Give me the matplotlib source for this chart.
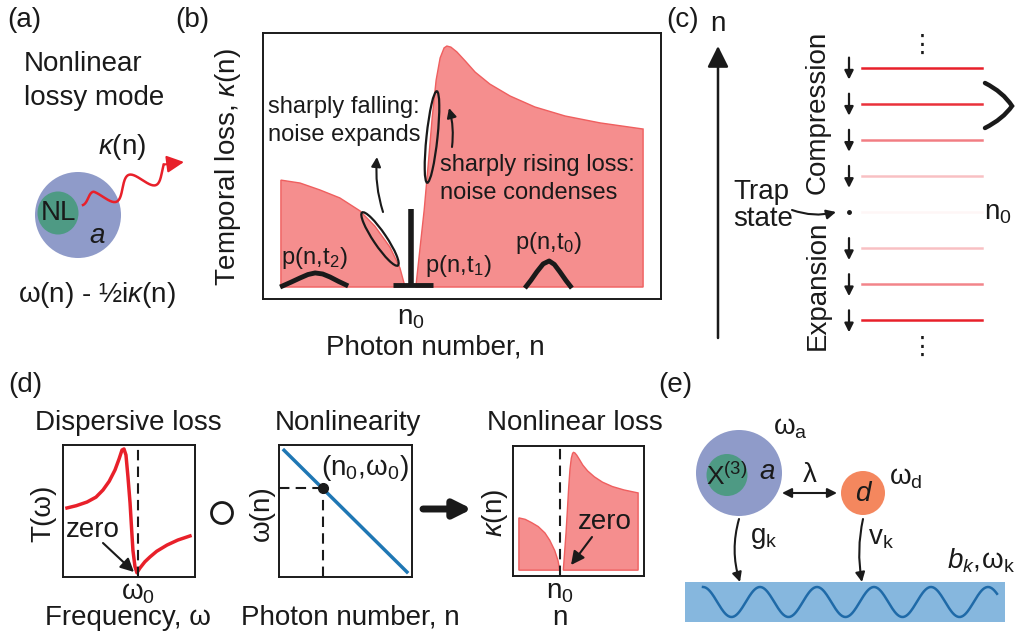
import numpy as np
import matplotlib
matplotlib.use('Agg')
import matplotlib.pyplot as plt
from matplotlib.patches import Ellipse, Circle, Rectangle, FancyArrowPatch
from matplotlib.path import Path
from matplotlib.patches import PathPatch

plt.rcParams['font.family'] = ['Liberation Sans', 'DejaVu Sans']
plt.rcParams['mathtext.fontset'] = 'custom'
plt.rcParams['mathtext.rm'] = 'Liberation Sans'
plt.rcParams['mathtext.it'] = 'Liberation Sans:italic'
plt.rcParams['mathtext.bf'] = 'Liberation Sans:bold'

W, H = 1016, 636
FS = 20

# nonlinear loss kappa(n), box units 0-100 (used in (b) and (d))
kappa_low_n = [4.5, 9.3, 14.3, 19.3, 24.4, 28.1, 31.9, 34.4, 35.7]
kappa_low = [44.7, 43.6, 41.0, 38.0, 33.1, 27.4, 19.5, 11.7, 4.5]
kappa_high_n = [38.4, 39.4, 40.5, 41.5, 42.5, 43.5, 44.5, 45.5, 46.2, 47.2,
                48.7, 50.8, 53.3, 57.0, 62.1, 68.3, 75.9, 84.7, 95.5]
kappa_high = [4.5, 18.4, 33.5, 50.4, 68.0, 82.3, 90.6, 94.4, 95.1, 94.7,
              92.9, 89.5, 85.3, 80.8, 76.3, 72.2, 68.8, 66.2, 63.9]
kappa_floor = 4.5
n0 = 37.2

# photon-number distributions p(n,t)
p_t2_n = [4.3, 7.0, 9.3, 11.3, 13.1, 15.0, 16.8, 19.0, 21.4]
p_t2 = [4.5, 6.3, 7.9, 9.2, 9.8, 9.4, 8.3, 6.6, 4.9]
p_t0_n = [65.8, 67.3, 68.8, 70.4, 71.9, 73.2, 74.6, 76.1, 77.6]
p_t0 = [4.1, 7.0, 10.2, 13.2, 14.3, 13.0, 10.2, 7.0, 4.1]
p_t1_base = [32.7, 42.7]
p_t1_level = 5.3
p_t1_peak = 33.8

# (c) energy ladder: offset from n0 and relative loss strength
level_offset = [4, 3, 2, 1, 0, -1, -2, -3]
level_loss = [1.0, 0.92, 0.58, 0.28, 0.04, 0.28, 0.55, 1.0]

# (d) dispersive loss T(w), box units
fano_w = [3.0, 10.0, 18.2, 25.0, 30.3, 35.0, 39.4, 42.5, 44.7, 46.2, 47.7,
          49.2, 50.8, 52.0, 53.0, 54.5, 56.0, 58.3, 62.0, 65.9, 71.0, 78.8, 87.0, 96.2]
fano_T = [52.3, 54.0, 56.8, 60.5, 65.9, 72.5, 81.1, 89.5, 96.2, 97.0, 92.4,
          76.0, 56.1, 36.0, 20.0, 8.0, 3.2, 6.8, 11.5, 15.2, 19.5, 24.2, 28.0, 31.1]
omega0 = 56.5

# (d) nonlinearity w(n)
omega_n = [3.8, 96.2]
omega_of_n = [96.0, 3.8]
n0_d = 33.1
omega0_d = 67.4

DASH = (0, (5, 3))

fig = plt.figure(figsize=(W / 100, H / 100), dpi=100)


def box_axes(x0, y0, x1, y1, lw=1.4):
    a = fig.add_axes([x0 / W, 1 - y1 / H, (x1 - x0) / W, (y1 - y0) / H])
    a.set_xlim(0, 100)
    a.set_ylim(0, 100)
    a.set_xticks([])
    a.set_yticks([])
    for s in a.spines.values():
        s.set_linewidth(lw)
        s.set_color('#1a1a1a')
    return a


fill_c = '#f58e8e'
edge_c = '#ef5f5f'


def draw_kappa(a):
    a.fill(kappa_low_n + [kappa_low_n[0]], kappa_low + [kappa_floor],
           facecolor=fill_c, edgecolor=edge_c, lw=1.0)
    a.fill(kappa_high_n + [kappa_high_n[-1]], kappa_high + [kappa_floor],
           facecolor=fill_c, edgecolor=edge_c, lw=1.0)


# ---- (b) ----
axb = box_axes(263, 33, 661, 299)
draw_kappa(axb)
axb.plot(p_t2_n, p_t2, color='#1a1a1a', lw=3.5, solid_capstyle='butt')
axb.plot(p_t0_n, p_t0, color='#1a1a1a', lw=3.5, solid_capstyle='butt')
axb.plot(p_t1_base, [p_t1_level] * 2, color='#1a1a1a', lw=3.5, solid_capstyle='butt')
axb.plot([n0, n0], [p_t1_level, p_t1_peak], color='#1a1a1a', lw=4, solid_capstyle='butt')

# ---- (d) ----
axd1 = box_axes(63, 445, 195, 577)
axd1.plot(fano_w, fano_T, color='#e8202a', lw=2.5)
axd1.axvline(omega0, color='#1a1a1a', lw=1.5, ls=DASH)

axd2 = box_axes(279, 445, 412, 577)
axd2.plot(omega_n, omega_of_n, color='#1f77b4', lw=2.5)
axd2.plot([0, n0_d], [omega0_d, omega0_d], color='#1a1a1a', lw=1.5, ls=DASH)
axd2.plot([n0_d, n0_d], [0, omega0_d], color='#1a1a1a', lw=1.5, ls=DASH)
axd2.plot([n0_d], [omega0_d], 'o', color='#1a1a1a', ms=7)

axd3 = box_axes(513, 446, 644, 576)
draw_kappa(axd3)
axd3.axvline(kappa_low_n[-1], color='#1a1a1a', lw=1.5, ls=DASH)

# ---- overlay canvas in pixel units ----
ax = fig.add_axes([0, 0, 1, 1], zorder=10)
ax.set_xlim(0, W)
ax.set_ylim(H, 0)
ax.axis('off')
ax.patch.set_alpha(0)

K = '#1a1a1a'


def txt(x, y, s, fs=FS, **kw):
    kw.setdefault('ha', 'center')
    kw.setdefault('va', 'center')
    ax.text(x, y, s, fontsize=fs, color=K, **kw)


def arrow(p0, p1, rad=0.0, ms=14, lw=1.5, style='-|>', color=K):
    ax.add_patch(FancyArrowPatch(p0, p1, arrowstyle=style, mutation_scale=ms,
                                 connectionstyle=f'arc3,rad={rad}', lw=lw,
                                 color=color, shrinkA=0, shrinkB=0))


# panel labels
txt(24, 20, '(a)')
txt(192, 20, '(b)')
txt(683, 20, '(c)')
txt(25, 385, '(d)')
txt(675, 385, '(e)')

# ---- (a) ----
txt(24, 64, 'Nonlinear', ha='left')
txt(24, 98, 'lossy mode', ha='left')
txt(122, 147, r'$\kappa$(n)')
ax.add_patch(Circle((78, 215), 43, color='#8f9bc9', lw=0))
ax.add_patch(Ellipse((58, 213), 41, 43, color='#4e9a84', lw=0))
txt(58, 213, 'NL')
txt(97, 236, 'a', style='italic')
t = np.linspace(0, 1, 200)
start, end = np.array([83.0, 205.0]), np.array([166.0, 170.0])
d = end - start
perp = np.array([d[1], -d[0]]) / np.hypot(*d)
wave = start + np.outer(t, d) + np.outer(10 * np.sin(2 * np.pi * 2.1 * t) * np.minimum(1, 6 * t), perp)
ax.plot(wave[:, 0], wave[:, 1], color='#e8202a', lw=1.8)
arrow(tuple(wave[-1]), (184, 162), ms=26, lw=1.5, color='#e8202a')
txt(97, 295, r'ω(n) - ½i$\kappa$(n)')

# ---- (b) text ----
txt(228, 167, r'Temporal loss, $\kappa$(n)', rotation=90)
txt(411, 318, r'$\mathrm{n_0}$')
txt(435, 348, 'Photon number, n')
txt(268, 107, 'sharply falling:', fs=17, ha='left')
txt(268, 135, 'noise expands', fs=17, ha='left')
txt(440, 165, 'sharply rising loss:', fs=17, ha='left')
txt(440, 193, 'noise condenses', fs=17, ha='left')
txt(314, 258, r'$\mathrm{p(n,\!t_2)}$', fs=17)
txt(458, 266, r'$\mathrm{p(n,\!t_1)}$', fs=17)
txt(548, 243, r'$\mathrm{p(n,\!t_0)}$', fs=17)
ax.add_patch(Ellipse((380, 239), 64, 13, angle=56, fill=False, ec=K, lw=1.6))
ax.add_patch(Ellipse((432, 137), 92, 11, angle=96, fill=False, ec=K, lw=1.6))
arrow((383, 212), (377, 157), rad=-0.1, ms=14)
arrow((452, 147), (449, 108), rad=0.1, ms=14)

# ---- (c) ----
arrow((718, 338), (718, 46), ms=32, lw=1.8)
txt(718, 24, 'n')
y_n0, dy = 212, 36.1
for off, loss in zip(level_offset, level_loss):
    y = y_n0 - off * dy
    ax.plot([862, 982], [y, y], color='#e8202a', alpha=loss, lw=1.8)
    if off == 0:
        ax.plot([849], [y], 'o', color=K, ms=2.5)
    else:
        arrow((849, y - 10), (849, y + 12), ms=13, lw=1.6)
txt(922, 45, '⋮', fs=18)
txt(922, 347, '⋮', fs=18)
txt(998, 213, r'$\mathrm{n_0}$')
txt(818, 112, 'Compression', rotation=90)
txt(818, 285, 'Expansion', rotation=90)
txt(733, 192, 'Trap', ha='left')
txt(733, 219, 'state', ha='left')
arrow((792, 210), (836, 212), rad=0.15, ms=14)
brace = Path([(985, 83), (1003, 92), (1012, 106), (1003, 119), (985, 128)],
             [Path.MOVETO, Path.CURVE3, Path.LINETO, Path.CURVE3, Path.LINETO])
ax.add_patch(PathPatch(brace, fill=False, lw=3.2, ec=K, capstyle='round'))

# ---- (d) text ----
txt(128, 423, 'Dispersive loss')
txt(43, 513, 'T(ω)', rotation=90)
txt(93, 530, 'zero')
arrow((103, 543), (134, 572), ms=20, lw=1.5)
txt(138, 593, r'$\mathrm{\omega_0}$')
txt(128, 618, 'Frequency, ω')
ax.add_patch(Circle((222, 513), 10.5, fill=False, ec=K, lw=2))
txt(348, 423, 'Nonlinearity')
txt(262, 513, 'ω(n)', rotation=90)
txt(365, 468, r'$\mathrm{(n_0,\!\omega_0)}$')
txt(350, 618, 'Photon number, n')
arrow((423, 509), (472, 509), ms=26, lw=5, style='-|>')
txt(575, 423, 'Nonlinear loss')
txt(495, 513, r'$\kappa$(n)', rotation=90)
txt(605, 522, 'zero')
arrow((592, 537), (571, 565), ms=20, lw=1.5)
txt(560, 592, r'$\mathrm{n_0}$')
txt(560, 618, 'n')

# ---- (e) ----
ax.add_patch(Circle((739, 473), 43, color='#8f9bc9', lw=0))
ax.add_patch(Ellipse((727, 475), 41, 42, color='#4e9a84', lw=0))
txt(727, 476, r'X$^{\mathrm{(3)}}$', fs=19)
txt(767, 472, 'a', style='italic')
txt(790, 428, r'$\mathrm{\omega_a}$')
ax.add_patch(Circle((863, 493), 22, color='#f4875e', lw=0))
txt(863, 494, 'd', style='italic')
txt(906, 478, r'$\mathrm{\omega_d}$')
arrow((782, 493), (837, 493), ms=14, lw=1.5, style='<|-|>')
txt(810, 475, 'λ')
arrow((739, 519), (740, 582), rad=0.15, ms=14)
arrow((863, 519), (862, 582), rad=0.1, ms=14)
txt(764, 538, r'$\mathrm{g_k}$')
txt(881, 538, r'$\mathrm{v_k}$')
txt(1015, 561, r'$b_{k}\mathrm{,\!\omega_k}$', ha='right')
ax.add_patch(Rectangle((685, 582), 320, 40, color='#86b7de', lw=0))
xs = np.linspace(703, 997, 400)
ax.plot(xs, 602 - 15 * np.cos(2 * np.pi * (xs - 703) / 57.0), color='#1f6aa8', lw=1.8)

fig.savefig('out.png', dpi=100)
